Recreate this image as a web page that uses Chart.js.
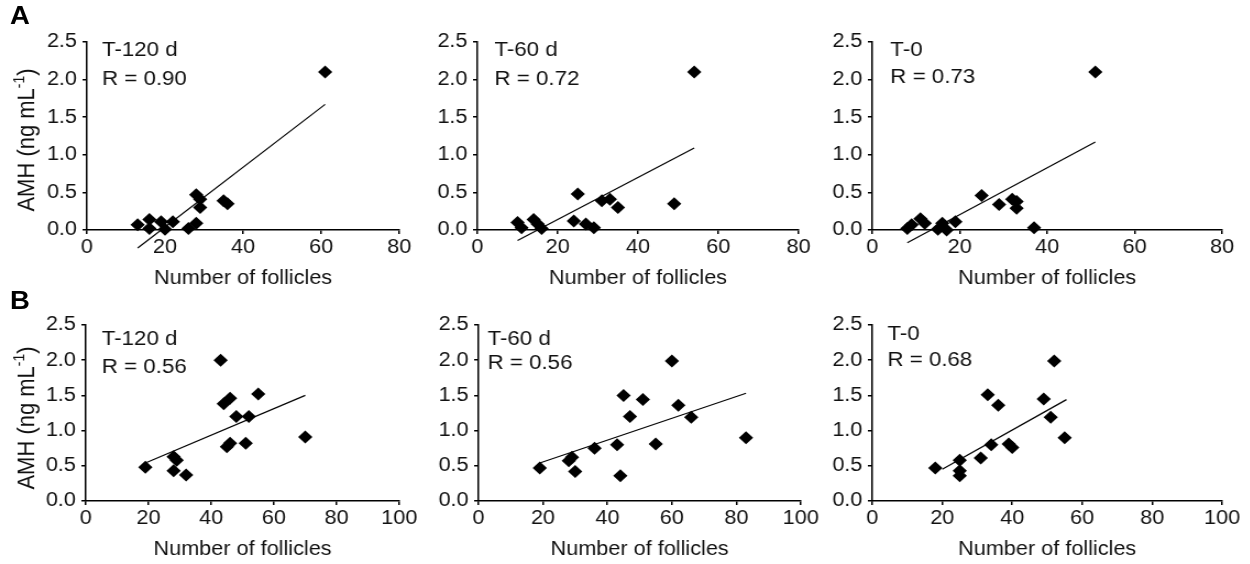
<!DOCTYPE html>
<html><head><meta charset="utf-8">
<script src="https://cdn.jsdelivr.net/npm/chart.js@4"></script>
<style>
html,body{margin:0;padding:0;background:#fff;overflow:hidden;width:1250px;height:564px;}
#stage{position:absolute;left:0;top:0;width:1137px;height:564px;transform-origin:0 0;transform:scaleX(1.1);}
#stage canvas{position:absolute;}
.lbl{position:absolute;font:bold 25px "Liberation Sans",Arial,sans-serif;color:#000;line-height:28px;}
</style></head><body>
<div id="stage">
<div class="lbl" style="left:9px;top:1px">A</div>
<div class="lbl" style="left:9px;top:286px">B</div>
</div>
<script>
// ---------- data ----------
const xTicksA = [0, 20, 40, 60, 80];
const xTicksB = [0, 20, 40, 60, 80, 100];
const yTicks = [0, 0.5, 1, 1.5, 2, 2.5];
const yTickLabels = ['0.0', '0.5', '1.0', '1.5', '2.0', '2.5'];
const xTitle = 'Number of follicles';
const yTitleMain = 'AMH (ng mL';
const yTitleSup = '-1';
const yTitleEnd = ')';
const periods = ['T-120 d', 'T-60 d', 'T-0'];
const rA = ['R = 0.90', 'R = 0.72', 'R = 0.73'];
const rB = ['R = 0.56', 'R = 0.56', 'R = 0.68'];

const A1_x = [13, 16, 16, 19, 20, 22, 26, 28, 28, 29, 29, 35, 36, 61];
const A1_y = [0.07, 0.14, 0.02, 0.11, 0.01, 0.11, 0.02, 0.09, 0.47, 0.41, 0.30, 0.39, 0.35, 2.1];
const A1_trendX = [13, 61];
const A1_trendY = [-0.24, 1.67];

const A2_x = [10, 11, 14, 15, 16, 24, 25, 27, 29, 31, 33, 35, 49, 54];
const A2_y = [0.10, 0.03, 0.14, 0.08, 0.02, 0.12, 0.48, 0.08, 0.03, 0.39, 0.41, 0.30, 0.35, 2.1];
const A2_trendX = [10, 54];
const A2_trendY = [-0.14, 1.09];

const A3_x = [8, 9, 11, 12, 15, 16, 17, 19, 25, 29, 32, 33, 33, 37, 51];
const A3_y = [0.02, 0.07, 0.15, 0.09, 0.01, 0.09, 0.0, 0.11, 0.46, 0.34, 0.41, 0.38, 0.29, 0.03, 2.1];
const A3_trendX = [8, 51];
const A3_trendY = [-0.17, 1.17];

const B1_x = [19, 28, 29, 28, 32, 43, 44, 46, 48, 52, 55, 45, 46, 51, 70];
const B1_y = [0.48, 0.63, 0.58, 0.43, 0.37, 2.0, 1.38, 1.46, 1.2, 1.2, 1.52, 0.77, 0.82, 0.82, 0.91];
const B1_trendX = [19, 70];
const B1_trendY = [0.54, 1.50];

const B2_x = [19, 28, 29, 30, 36, 43, 44, 45, 47, 51, 55, 60, 62, 66, 83];
const B2_y = [0.47, 0.57, 0.62, 0.42, 0.75, 0.80, 0.36, 1.50, 1.20, 1.44, 0.81, 1.99, 1.36, 1.19, 0.90];
const B2_trendX = [19, 83];
const B2_trendY = [0.54, 1.53];

const B3_x = [18, 25, 25, 25, 31, 33, 34, 36, 39, 40, 49, 51, 52, 55];
const B3_y = [0.47, 0.58, 0.43, 0.36, 0.61, 1.51, 0.80, 1.36, 0.81, 0.76, 1.45, 1.19, 1.99, 0.90];
const B3_trendX = [20, 55.5];
const B3_trendY = [0.45, 1.44];

// ---------- layout / style ----------
const S = 1.1;
const FONT = '"Liberation Sans", Arial, Helvetica, sans-serif';
const INK = '#111';
const TICKSIZE = 19.7;
Chart.defaults.font.family = FONT;

const panels = [
  {xs:A1_x, ys:A1_y, tx:A1_trendX, ty:A1_trendY, xTicks:xTicksA, label:periods[0], r:rA[0], box:[87,399,42,230], xH:60, dx:15, tDy:8, rDy:37, yTitleY:140},
  {xs:A2_x, ys:A2_y, tx:A2_trendX, ty:A2_trendY, xTicks:xTicksA, label:periods[1], r:rA[1], box:[477,798,42,230], xH:60, dx:17, tDy:8, rDy:37},
  {xs:A3_x, ys:A3_y, tx:A3_trendX, ty:A3_trendY, xTicks:xTicksA, label:periods[2], r:rA[2], box:[872,1222,42,230], xH:60, dx:18, tDy:8, rDy:35},
  {xs:B1_x, ys:B1_y, tx:B1_trendX, ty:B1_trendY, xTicks:xTicksB, label:periods[0], r:rB[0], box:[86,399,325,501], xH:60, dx:16, tDy:14, rDy:42, yTitleY:418},
  {xs:B2_x, ys:B2_y, tx:B2_trendX, ty:B2_trendY, xTicks:xTicksB, label:periods[1], r:rB[1], box:[478,800,325,501], xH:60, dx:9, tDy:14, rDy:38},
  {xs:B3_x, ys:B3_y, tx:B3_trendX, ty:B3_trendY, xTicks:xTicksB, label:periods[2], r:rB[2], box:[872,1222,325,501], xH:60, dx:15, tDy:9, rDy:35}
];

const YAXW = 72, PADT = 25, PADR = 25;

const yTitlePlugin = {
  id: 'ytitle',
  afterDraw(chart, args, o) {
    if (!o.show) return;
    const ctx = chart.ctx;
    ctx.save();
    ctx.translate(o.x, o.y);
    ctx.rotate(-Math.PI / 2);
    ctx.fillStyle = INK;
    ctx.textBaseline = 'middle';
    ctx.textAlign = 'left';
    const big = '22px ' + FONT, small = '14px ' + FONT;
    ctx.font = big;
    const w1 = ctx.measureText(yTitleMain).width;
    const w3 = ctx.measureText(yTitleEnd).width;
    ctx.font = small;
    const w2 = ctx.measureText(yTitleSup).width;
    let x = -(w1 + w2 + w3) / 2;
    ctx.font = big; ctx.fillText(yTitleMain, x, 0); x += w1;
    ctx.font = small; ctx.fillText(yTitleSup, x, -7); x += w2;
    ctx.font = big; ctx.fillText(yTitleEnd, x, 0);
    ctx.restore();
  }
};

const annotPlugin = {
  id: 'annot',
  afterDraw(chart, args, o) {
    const ctx = chart.ctx, a = chart.chartArea;
    ctx.save();
    ctx.fillStyle = INK;
    ctx.font = '20.3px ' + FONT;
    ctx.textBaseline = 'middle';
    ctx.textAlign = 'left';
    ctx.fillText(o.label, a.left + o.dx, a.top + o.tDy);
    ctx.fillText(o.r, a.left + o.dx, a.top + o.rDy);
    ctx.restore();
  }
};

const stage = document.getElementById('stage');
panels.forEach(p => {
  const L = p.box[0] / S, R = p.box[1] / S, T = p.box[2], B = p.box[3];
  const W = Math.round(R - L), H = B - T;
  const cv = document.createElement('canvas');
  cv.width = YAXW + W + PADR;
  cv.height = PADT + H + p.xH;
  const cl = L - YAXW, ct = T - PADT;
  cv.style.left = cl + 'px';
  cv.style.top = ct + 'px';
  cv.style.width = cv.width + 'px';
  cv.style.height = cv.height + 'px';
  stage.appendChild(cv);
  const xMax = p.xTicks[p.xTicks.length - 1];
  const gridOpt = {display:true, drawOnChartArea:false, drawTicks:true, tickLength:4, color:'#000', tickColor:'#000', lineWidth:1.5, tickWidth:1.5};
  const borderOpt = {display:true, color:'#000', width:1.5};
  new Chart(cv, {
    type: 'scatter',
    data: {datasets: [
      {data: p.xs.map((x, i) => ({x, y: p.ys[i]})), pointStyle:'rectRot', pointRadius:6.5, pointHoverRadius:6.5,
       backgroundColor:'#000', borderColor:'#000', borderWidth:0, clip:false},
      {data: p.tx.map((x, i) => ({x, y: p.ty[i]})), showLine:true, pointRadius:0, borderColor:'#000', borderWidth:1.2, fill:false, clip:false}
    ]},
    options: {
      responsive:false, animation:false, events:[],
      layout:{padding:{top:PADT, right:PADR, left:0, bottom:0}},
      plugins:{
        legend:{display:false}, tooltip:{enabled:false},
        ytitle:{show: !!p.yTitleY, x: 28 / S - cl, y: (p.yTitleY || 0) - ct},
        annot:{label:p.label, r:p.r, dx:p.dx / S, tDy:p.tDy, rDy:p.rDy}
      },
      scales:{
        x:{type:'linear', min:0, max:xMax,
           afterBuildTicks: s => { s.ticks = p.xTicks.map(v => ({value:v})); },
           afterFit: s => { s.height = p.xH; },
           grid:gridOpt, border:borderOpt,
           ticks:{color:INK, font:{size:TICKSIZE}, padding:2, maxRotation:0, autoSkip:false,
                  callback:(v, i) => String(p.xTicks[i])},
           title:{display:true, text:xTitle, color:INK, font:{size:TICKSIZE}, padding:0}},
        y:{type:'linear', min:0, max:2.5,
           afterBuildTicks: s => { s.ticks = yTicks.map(v => ({value:v})); },
           afterFit: s => { s.width = YAXW; },
           grid:gridOpt, border:borderOpt,
           ticks:{color:INK, font:{size:TICKSIZE}, padding:5, autoSkip:false,
                  callback:(v, i) => yTickLabels[i]}}
      }
    },
    plugins:[yTitlePlugin, annotPlugin]
  });
});
</script>
</body></html>
